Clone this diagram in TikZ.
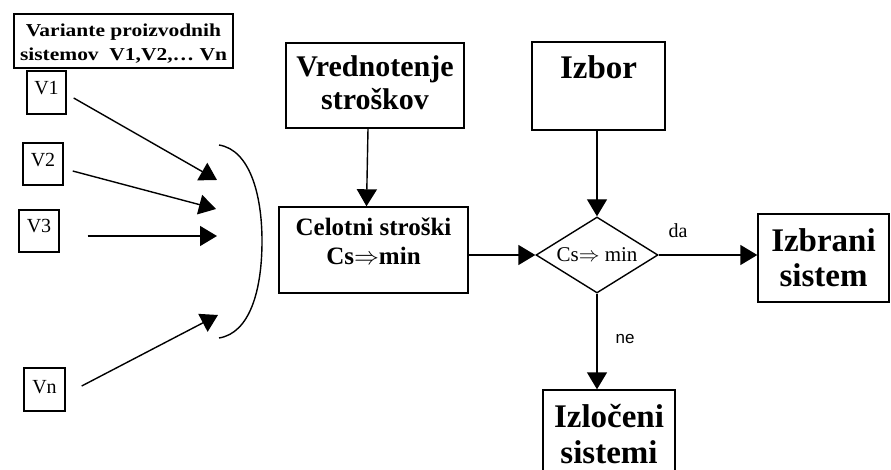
\documentclass[tikz,border=0pt]{standalone}
\usepackage{fontspec}
\setmainfont{Liberation Serif}
\newfontfamily\titlefont[FakeStretch=1.18]{Liberation Serif}
\newfontfamily\nefont{Liberation Sans}
\usetikzlibrary{shapes.geometric,arrows.meta}
\newcommand\fsz[2]{\fontsize{#1}{#2}\selectfont}
\newcommand\twoline[2]{\begin{tabular}[b]{@{}c@{}}#1\\#2\end{tabular}}
\begin{document}
\begin{tikzpicture}[x=1pt,y=-1pt,line width=1.4pt,
  box/.style={draw,rectangle,inner sep=0pt},
  arr/.style={-{Triangle[length=17pt,width=20pt]}}]
\useasboundingbox (0,0) rectangle (891,470);
% title
\node[box,minimum width=219pt,text height=47pt,text depth=7pt,font=\titlefont\bfseries\fsz{18.2}{24}] (title) at (123.5,41) {\twoline{Variante proizvodnih}{sistemov~ V1,V2,… Vn}};
% variants
\node[box,minimum width=39pt,text height=24pt,text depth=19pt,font=\fsz{20}{24}] (v1) at (46.5,92.5) {V1};
\node[box,minimum width=40pt,text height=24pt,text depth=18pt,font=\fsz{20}{24}] (v2) at (43,164) {V2};
\node[box,minimum width=40pt,text height=23pt,text depth=19pt,font=\fsz{20}{24}] (v3) at (39,231) {V3};
\node[box,minimum width=41pt,text height=25pt,text depth=18pt,font=\fsz{20}{24}] (vn) at (44.5,389.5) {Vn};
% bracket
\coordinate (bt) at (219,145);
\coordinate (bb) at (219,338);
\draw (bt) .. controls (250,150) and (262,195) .. (262,241) .. controls (262,290) and (250,333) .. (bb);
\coordinate (t1) at (217,180);
\coordinate (t2) at (216,209);
\coordinate (t3) at (217,236);
\coordinate (tn) at (218,315);
\draw[arr] ([xshift=7pt,yshift=-5.5pt]v1.east) -- (t1);
\draw[arr] ([xshift=9pt,yshift=-7pt]v2.east) -- (t2);
\draw[arr] ([xshift=28pt,yshift=-5pt]v3.east) -- (t3);
\draw[arr] ([xshift=16pt,yshift=3.5pt]vn.east) -- (tn);
% main boxes
\node[box,minimum width=178pt,text height=67pt,text depth=18pt,font=\bfseries\fsz{30}{33}] (vred) at (375,85.5) {\twoline{Vrednotenje}{stroškov}};
\node[box,minimum width=189pt,text height=58pt,text depth=28pt,font=\bfseries\fsz{25}{29}] (cel) at (373.5,250) {\twoline{Celotni stroški}{Cs$\Rightarrow$min}};
\node[box,minimum width=133pt,text height=37pt,text depth=51pt,font=\bfseries\fsz{33}{36}] (izbor) at (598.5,86) {Izbor};
\node[draw,diamond,aspect=1.6,minimum width=122pt,minimum height=76pt,inner sep=0pt,font=\fsz{21}{24}] (dia) at (597,255) {Cs$\Rightarrow$ min};
\node[box,minimum width=131pt,text height=73pt,text depth=15pt,font=\bfseries\fsz{33}{35}] (izb) at (823.5,258) {\twoline{Izbrani}{sistem}};
\node[box,minimum width=132pt,text height=73pt,text depth=17pt,font=\bfseries\fsz{33}{36}] (izl) at (609,435) {\twoline{Izločeni}{sistemi}};
% connectors
\draw[arr] ([xshift=-7pt]vred.south) -- ([xshift=-7pt]cel.north);
\draw[arr] (dia.north |- izbor.south) -- (dia.north);
\draw[arr] (cel.east |- dia.west) -- (dia.west);
\draw[arr] (dia.east) -- (dia.east -| izb.west);
\draw[arr] (dia.south) -- (dia.south |- izl.north);
\node[font=\fsz{20}{24}] (da) at (678,231) {da};
\node[font=\nefont\fsz{17}{20}] (ne) at (625,339) {ne};
\end{tikzpicture}
\end{document}
